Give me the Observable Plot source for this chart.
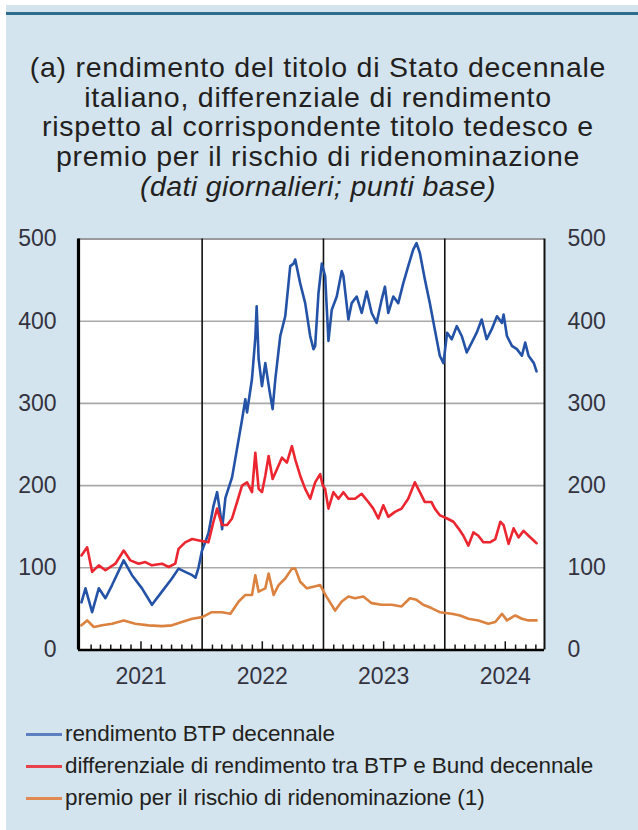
<!DOCTYPE html>
<html>
<head>
<meta charset="utf-8">
<script src="https://cdn.jsdelivr.net/npm/d3@7"></script>
<script src="https://cdn.jsdelivr.net/npm/@observablehq/plot@0.6"></script>
<style>
  html, body { margin: 0; padding: 0; background: #ffffff; }
  body { width: 638px; height: 830px; position: relative; overflow: hidden; font-family: "Liberation Sans", Arial, sans-serif; }
  #panel { position: absolute; left: 6px; top: 5px; width: 632px; height: 825px; background: #d3e4ee; }
  #topline { position: absolute; left: 6px; top: 12px; width: 632px; height: 3px; background: #2c6d8c; }
  #title { position: absolute; left: 0; top: 53px; width: 636px; text-align: center; font-size: 28.5px; letter-spacing: 0.75px; line-height: 29.7px; color: #231f20; }
  #title .sub { font-style: italic; letter-spacing: 0.4px; }
  #chart { position: absolute; left: 0; top: 215px; }
  #legend { position: absolute; left: 26px; top: 718px; font-size: 22.5px; letter-spacing: -0.1px; color: #231f20; }
  .item { height: 32px; display: flex; align-items: center; white-space: nowrap; }
  .sw { width: 36px; height: 3px; margin-right: 3px; flex: none; }
</style>
</head>
<body>
<div id="panel"></div>
<div id="topline"></div>
<div id="title"></div>
<div id="chart"></div>
<div id="legend"></div>
<script>
// ---- text ----
const titleLines = [
  "(a) rendimento del titolo di Stato decennale",
  "italiano, differenziale di rendimento",
  "rispetto al corrispondente titolo tedesco e",
  "premio per il rischio di ridenominazione"
];
const subtitle = "(dati giornalieri; punti base)";
const seriesNames = [
  "rendimento BTP decennale",
  "differenziale di rendimento tra BTP e Bund decennale",
  "premio per il rischio di ridenominazione (1)"
];
const lineColors = ["#2352a6", "#ec2630", "#dc8240"];
const legendColors = ["#5b7fc0", "#e8414e", "#e08a52"];
const yTicks = [0, 100, 200, 300, 400, 500];
const yearLabels = ["2021", "2022", "2023", "2024"];
const yearLines = ["2022-01-01", "2023-01-01", "2024-01-01"];

// ---- data (basis points) ----
const btpDates = ["2021-01-03","2021-01-15","2021-02-04","2021-02-24","2021-03-16","2021-04-05","2021-05-10","2021-06-04","2021-07-04","2021-08-03","2021-09-02","2021-10-02","2021-10-22","2021-11-11","2021-12-02","2021-12-12","2021-12-21","2021-12-31",
"2022-01-20","2022-02-04","2022-02-15","2022-02-25","2022-03-02","2022-03-12","2022-04-01","2022-04-16","2022-05-01","2022-05-11","2022-05-16","2022-05-31","2022-06-10","2022-06-14","2022-06-20","2022-06-30","2022-07-10","2022-07-22","2022-08-01","2022-08-09","2022-08-24","2022-09-08","2022-09-23","2022-10-03","2022-10-08","2022-10-23","2022-11-07","2022-11-22","2022-12-02","2022-12-07","2022-12-17","2022-12-27",
"2023-01-06","2023-01-16","2023-01-26","2023-02-10","2023-02-25","2023-03-02","2023-03-17","2023-03-27","2023-04-11","2023-04-26","2023-05-11","2023-05-26","2023-06-10","2023-06-25","2023-07-05","2023-07-15","2023-07-30","2023-08-14","2023-08-29","2023-09-13","2023-09-28","2023-10-08","2023-10-18","2023-11-02","2023-11-17","2023-12-02","2023-12-17","2023-12-28",
"2024-01-08","2024-01-22","2024-02-06","2024-02-21","2024-03-07","2024-03-22","2024-04-06","2024-04-21","2024-05-06","2024-05-21","2024-06-06","2024-06-21","2024-06-26","2024-07-06","2024-07-21","2024-08-05","2024-08-20","2024-08-30","2024-09-09","2024-09-25","2024-10-03"];
const btpValues = [58,75,46,75,63,79,109,91,75,55,71,87,99,95,91,88,100,120,
142,175,192,165,147,185,210,245,280,305,289,330,380,418,354,321,349,317,293,329,382,406,467,470,475,446,422,382,366,370,434,470,
455,376,414,430,461,455,402,422,430,410,436,410,398,426,442,410,430,422,446,467,487,495,483,451,422,390,358,349,
386,378,394,382,362,374,386,402,378,390,406,398,408,382,370,366,358,374,358,349,339];

const spreadDates = ["2021-01-03","2021-01-20","2021-02-04","2021-02-24","2021-03-16","2021-04-15","2021-05-10","2021-05-30","2021-06-24","2021-07-14","2021-08-03","2021-09-02","2021-09-22","2021-10-12","2021-10-22","2021-11-11","2021-12-02","2021-12-26",
"2022-01-20","2022-02-04","2022-02-15","2022-03-02","2022-03-17","2022-04-01","2022-04-16","2022-05-01","2022-05-16","2022-05-31","2022-06-10","2022-06-20","2022-06-30","2022-07-10","2022-07-20","2022-08-01","2022-08-14","2022-08-29","2022-09-13","2022-09-28","2022-10-08","2022-10-23","2022-11-07","2022-11-22","2022-12-07","2022-12-22","2022-12-30",
"2023-01-06","2023-01-16","2023-01-31","2023-02-15","2023-03-02","2023-03-17","2023-04-06","2023-04-26","2023-05-16","2023-05-31","2023-06-15","2023-06-30","2023-07-15","2023-08-04","2023-08-24","2023-09-13","2023-10-03","2023-10-18","2023-11-02","2023-11-22","2023-12-02","2023-12-17","2023-12-28",
"2024-01-08","2024-01-27","2024-02-11","2024-02-26","2024-03-12","2024-03-27","2024-04-11","2024-04-26","2024-05-16","2024-06-01","2024-06-16","2024-06-26","2024-07-11","2024-07-26","2024-08-10","2024-08-25","2024-09-09","2024-09-30","2024-10-03"];
const spreadValues = [115,125,95,103,97,105,121,109,105,107,103,105,101,105,123,131,135,133,
131,156,172,152,152,160,180,200,204,192,240,196,192,212,236,208,220,234,228,248,232,212,196,184,204,214,200,
196,172,192,184,192,184,184,190,180,172,160,176,162,168,172,184,204,192,180,180,172,164,162,
160,156,148,139,127,143,139,131,131,135,156,152,129,148,137,145,139,131,130];

const premioDates = ["2021-01-03","2021-01-20","2021-02-09","2021-03-06","2021-04-05","2021-05-10","2021-06-14","2021-07-24","2021-09-02","2021-10-02","2021-11-01","2021-12-02","2022-01-01",
"2022-01-30","2022-03-02","2022-03-27","2022-04-21","2022-05-11","2022-05-31","2022-06-10","2022-06-20","2022-07-10","2022-07-20","2022-08-04","2022-08-19","2022-09-08","2022-09-28","2022-10-08","2022-10-23","2022-11-12","2022-12-02","2022-12-22",
"2023-01-10","2023-02-05","2023-02-25","2023-03-17","2023-04-06","2023-05-01","2023-05-26","2023-06-25","2023-07-25","2023-08-24","2023-09-18","2023-10-08","2023-10-28","2023-11-22","2023-12-17",
"2024-01-22","2024-02-16","2024-03-12","2024-04-11","2024-05-11","2024-06-01","2024-06-21","2024-07-06","2024-07-31","2024-08-20","2024-09-09","2024-10-03"];
const premioValues = [30,36,28,30,32,36,32,30,29,30,34,38,40,
46,46,44,59,67,67,91,71,75,93,67,79,87,99,99,83,75,77,79,
65,48,59,65,63,65,57,55,55,53,63,61,55,51,46,
44,42,38,36,32,34,44,36,42,38,36,36];

// ---- build tables ----
const parse = d3.utcParse("%Y-%m-%d");
const toRows = (dates, values) => dates.map((d, i) => ({date: parse(d), value: values[i]}));
const series = [toRows(btpDates, btpValues), toRows(spreadDates, spreadValues), toRows(premioDates, premioValues)];

const xDomain = [parse("2020-12-25"), parse("2024-10-27")];
const months = d3.utcMonth.range(parse("2021-01-01"), parse("2024-10-27"));
const regularMonths = months.filter(d => d.getUTCMonth() !== 6 && d.getUTCMonth() !== 0);
const julyMonths = months.filter(d => d.getUTCMonth() === 6);
const midYears = yearLabels.map(y => parse(y + "-07-01"));

// title
const t = document.getElementById("title");
titleLines.forEach(l => { const d = document.createElement("div"); d.textContent = l; t.appendChild(d); });
const s = document.createElement("div"); s.className = "sub"; s.textContent = subtitle; t.appendChild(s);

// legend
const lg = document.getElementById("legend");
seriesNames.forEach((n, i) => {
  const it = document.createElement("div"); it.className = "item";
  const sw = document.createElement("span"); sw.className = "sw"; sw.style.background = legendColors[i];
  const tx = document.createElement("span"); tx.textContent = n;
  it.appendChild(sw); it.appendChild(tx); lg.appendChild(it);
});

const chart = Plot.plot({
  width: 638,
  height: 485,
  marginLeft: 78,
  marginRight: 94,
  marginTop: 23.5,
  marginBottom: 50.5,
  style: {background: "transparent", fontFamily: "Liberation Sans, Arial, sans-serif", overflow: "visible"},
  x: {type: "utc", domain: xDomain},
  y: {domain: [0, 500]},
  marks: [
    Plot.frame({fill: "white", stroke: "none"}),
    Plot.ruleY([100, 200, 300, 400], {stroke: "#a9a9a9", strokeWidth: 1.6}),
    Plot.ruleY([500], {stroke: "#9a9a9a", strokeWidth: 2}),
    Plot.ruleX(yearLines.map(parse), {stroke: "#111", strokeWidth: 1.6}),
    Plot.ruleX(regularMonths, {y1: 0, y2: 6, stroke: "#111", strokeWidth: 1.5}),
    Plot.ruleX(julyMonths, {y1: 0, y2: 10, stroke: "#111", strokeWidth: 1.5}),
    ...series.map((rows, i) => Plot.line(rows, {x: "date", y: "value", stroke: lineColors[i], strokeWidth: 2.6, strokeLinejoin: "round"})),
    Plot.ruleX([xDomain[0]], {stroke: "#000", strokeWidth: 3.2}),
    Plot.ruleX([xDomain[1]], {stroke: "#111", strokeWidth: 2}),
    Plot.ruleY([0], {stroke: "#000", strokeWidth: 2.6}),
    Plot.axisY(yTicks, {anchor: "left", tickSize: 0, tickPadding: 22, fontSize: 23, fill: "#33333f", label: null}),
    Plot.axisY(yTicks, {anchor: "right", tickSize: 0, tickPadding: 23, fontSize: 23, fill: "#33333f", label: null}),
    Plot.axisX(midYears, {anchor: "bottom", tickSize: 0, tickPadding: 18, fontSize: 23, fill: "#33333f", tickFormat: d => String(d.getUTCFullYear()), label: null})
  ]
});
document.getElementById("chart").appendChild(chart);
</script>
</body>
</html>
